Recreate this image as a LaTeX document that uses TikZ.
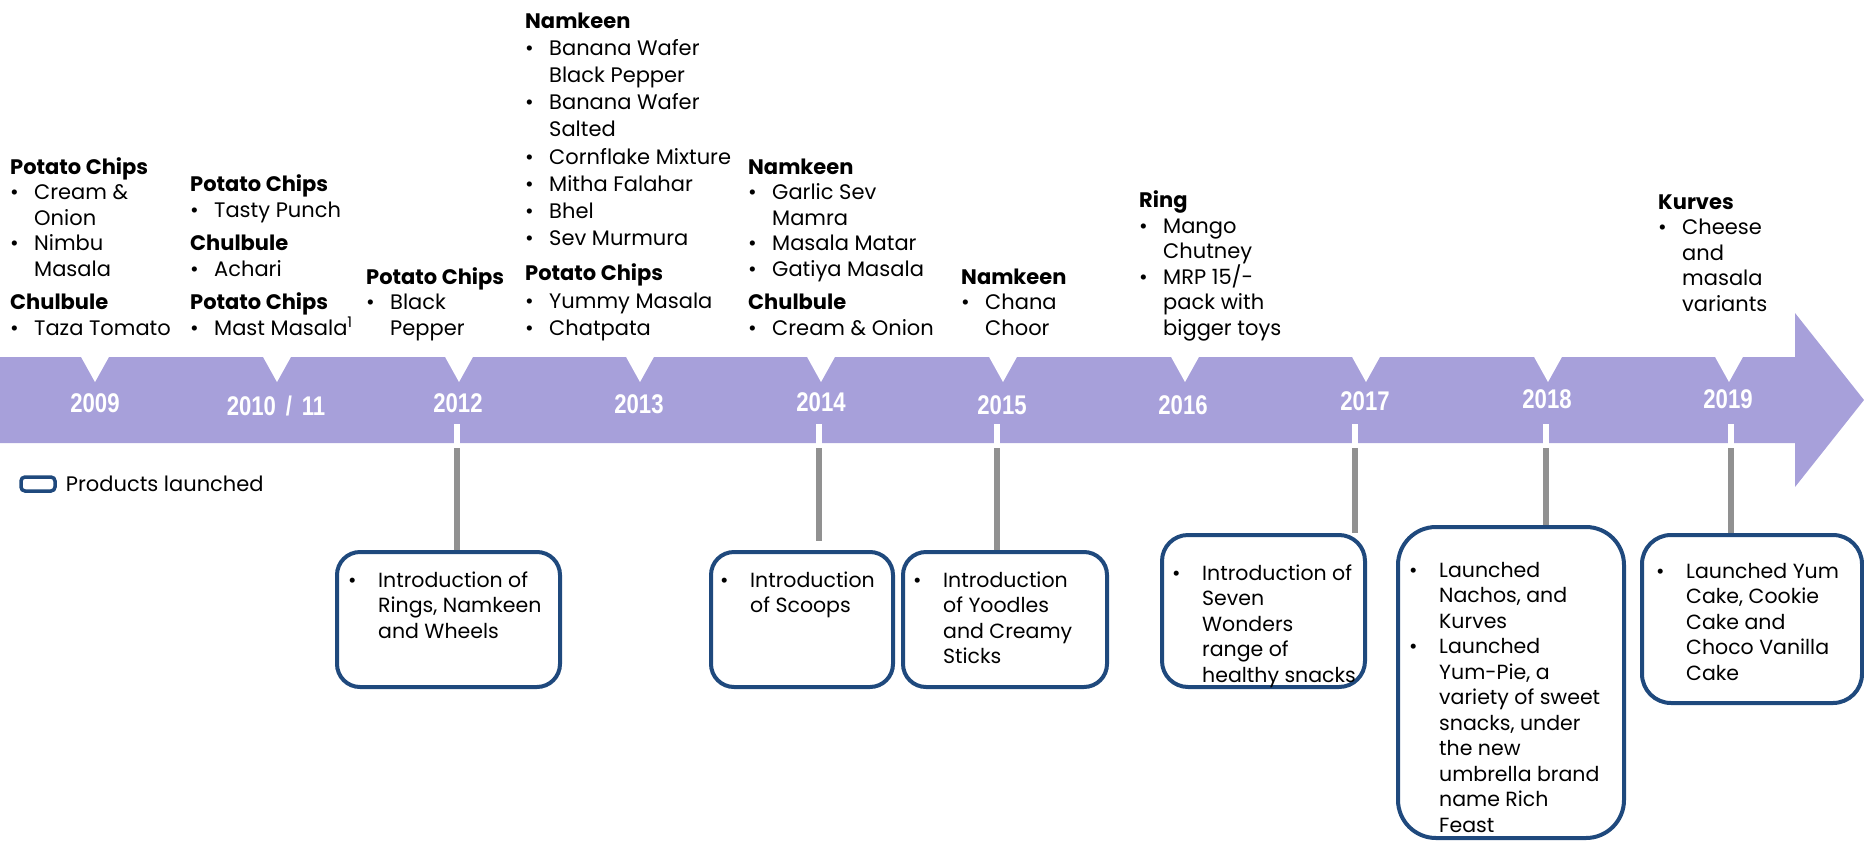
\documentclass[tikz,border=0pt]{standalone}
\usepackage{fontspec}
\usepackage{graphicx}
\setmainfont{Poppins}
\newfontfamily\yearfont{Liberation Sans}
\usetikzlibrary{positioning}

\definecolor{bandcol}{RGB}{167,160,218}
\definecolor{boxblue}{RGB}{31,73,125}
\definecolor{tickgray}{RGB}{145,145,145}

% header line, bullet line and continued line of a list
\newcommand{\hd}[1]{\rule{0pt}{18pt}\textbf{#1}}
\newcommand{\itm}[2][24pt]{\makebox[#1][l]{\rule{0pt}{18pt}\textbullet}#2}
\newcommand{\cnt}[2][24pt]{\hspace*{#1}#2}

\begin{document}
\begin{tikzpicture}[x=1pt,y=-1pt,
  list/.style={anchor=north west,inner sep=0pt,align=left,font=\fontsize{21}{25.5}\selectfont},
  boxlist/.style={list,font=\fontsize{20.5}{25.5}\selectfont},
  year/.style={text=white,inner sep=0pt,font=\yearfont\bfseries\fontsize{27}{27}\selectfont},
  launch/.style={draw=boxblue,line width=4pt,rounded corners=#1,anchor=north west,inner sep=0pt},
  launch/.default=23pt,
  tickline/.style={tickgray,line width=6pt}]
\useasboundingbox (0,0) rectangle (1864,841);

% timeline arrow with the notches
\fill[bandcol] (0,357) -- (1795,357) -- (1795,313) -- (1864,400) -- (1795,487) -- (1795,443) -- (0,443) -- cycle;
\foreach \x in {95,277,459,640,821,1003,1185,1366,1548,1729} {
\fill[white] (\x-15,355) -- (\x+15,355) -- (\x,382) -- cycle;
}
\foreach \x/\y/\yr [count=\i] in {95/403/2009,276/406/{2010 \,/\, 11},458/403/2012,639/404/2013,821/402/2014,1002/405/2015,1183/405/2016,1365/401/2017,1547/399/2018,1728/399/2019} {
\node[year] (yr\i) at (\x,\y) {\scalebox{0.82}[1]{\yr}};
}

% ticks under the band
\foreach \yr/\x in {2012/457,2014/819,2015/997,2017/1355,2018/1546,2019/1731} {
\coordinate (t\yr) at (\x,424);
\coordinate (g\yr) at (\x,448);
\draw[white,line width=6pt] (t\yr) -- (g\yr);
}

% products above the band
\node[list] (blk2009) at (10,156) {\hd{Potato Chips}\\ \itm{Cream \&}\\ \cnt{Onion}\\ \itm{Nimbu}\\ \cnt{Masala}\\[8pt] \hd{Chulbule}\\ \itm{Taza Tomato}};
\node[list] (blk2010) at (190,173.5) {\hd{Potato Chips}\\ \itm{Tasty Punch}\\[8pt] \hd{Chulbule}\\ \itm{Achari}\\[8pt] \hd{Potato Chips}\\ \itm{Mast Masala\textsuperscript{1}}};
\node[list] (blk2012) at (366,266) {\hd{Potato Chips}\\ \itm{Black}\\ \cnt{Pepper}};
\node[list,font=\fontsize{21}{27.2}\selectfont] (blk2013) at (525,9.8) {\hd{Namkeen}\\ \itm{Banana Wafer}\\ \cnt{Black Pepper}\\ \itm{Banana Wafer}\\ \cnt{Salted}\\ \itm{Cornflake Mixture}\\ \itm{Mitha Falahar}\\ \itm{Bhel}\\ \itm{Sev Murmura}\\[8pt] \hd{Potato Chips}\\ \itm{Yummy Masala}\\ \itm{Chatpata}};
\node[list] (blk2014) at (748,156) {\hd{Namkeen}\\ \itm{Garlic Sev}\\ \cnt{Mamra}\\ \itm{Masala Matar}\\ \itm{Gatiya Masala}\\[8pt] \hd{Chulbule}\\ \itm{Cream \& Onion}};
\node[list] (blk2015) at (961,266) {\hd{Namkeen}\\ \itm{Chana}\\ \cnt{Choor}};
\node[list] (blk2016) at (1139,189.5) {\hd{Ring}\\ \itm{Mango}\\ \cnt{Chutney}\\ \itm{MRP 15/-}\\ \cnt{pack with}\\ \cnt{bigger toys}};
\node[list] (blk2019) at (1658,191) {\hd{Kurves}\\ \itm{Cheese}\\ \cnt{and}\\ \cnt{masala}\\ \cnt{variants}};

% legend
\node[draw=boxblue,line width=3.5pt,rounded corners=4pt,minimum width=34pt,minimum height=14pt,inner sep=0pt] (key) at (38,484) {};
\node[right=9pt of key,inner sep=0pt,font=\fontsize{21}{25}\selectfont] (keytxt) {Products launched};

% launch boxes
\node[launch,minimum width=223pt,minimum height=135pt] (box2012) at (335,550) {};
\node[launch,minimum width=182pt,minimum height=135pt] (box2014) at (709,550) {};
\node[launch,minimum width=204pt,minimum height=135pt] (box2015) at (901,550) {};
\node[launch=26pt,minimum width=203pt,minimum height=152pt] (box2017) at (1160,533) {};
\node[launch=38pt,minimum width=226pt,minimum height=311pt] (box2018) at (1396,525) {};
\node[launch=29pt,minimum width=220pt,minimum height=168pt] (box2019) at (1640,533) {};

\draw[tickline] (g2012) -- (g2012 |- box2012.north);
\draw[tickline] (g2014) -- ++(0,93);
\draw[tickline] (g2015) -- (g2015 |- box2015.north);
\draw[tickline] (g2017) -- (g2017 |- box2017.north);
\draw[tickline] (g2018) -- (g2018 |- box2018.north);
\draw[tickline] (g2019) -- (g2019 |- box2019.north);

\node[boxlist] (txt2012) at (348,569) {\itm[30pt]{Introduction of}\\ \cnt[30pt]{Rings, Namkeen}\\ \cnt[30pt]{and Wheels}};
\node[boxlist] (txt2014) at (720,569) {\itm[30pt]{Introduction}\\ \cnt[30pt]{of Scoops}};
\node[boxlist] (txt2015) at (913,569) {\itm[30pt]{Introduction}\\ \cnt[30pt]{of Yoodles}\\ \cnt[30pt]{and Creamy}\\ \cnt[30pt]{Sticks}};
\node[boxlist] (txt2017) at (1172,562) {\itm[30pt]{Introduction of}\\ \cnt[30pt]{Seven}\\ \cnt[30pt]{Wonders}\\ \cnt[30pt]{range of}\\ \cnt[30pt]{healthy snacks}};
\node[boxlist] (txt2018) at (1409,559) {\itm[30pt]{Launched}\\ \cnt[30pt]{Nachos, and}\\ \cnt[30pt]{Kurves}\\ \itm[30pt]{Launched}\\ \cnt[30pt]{Yum-Pie, a}\\ \cnt[30pt]{variety of sweet}\\ \cnt[30pt]{snacks, under}\\ \cnt[30pt]{the new}\\ \cnt[30pt]{umbrella brand}\\ \cnt[30pt]{name Rich}\\ \cnt[30pt]{Feast}};
\node[boxlist] (txt2019) at (1656,560) {\itm[30pt]{Launched Yum}\\ \cnt[30pt]{Cake, Cookie}\\ \cnt[30pt]{Cake and}\\ \cnt[30pt]{Choco Vanilla}\\ \cnt[30pt]{Cake}};
\end{tikzpicture}
\end{document}
